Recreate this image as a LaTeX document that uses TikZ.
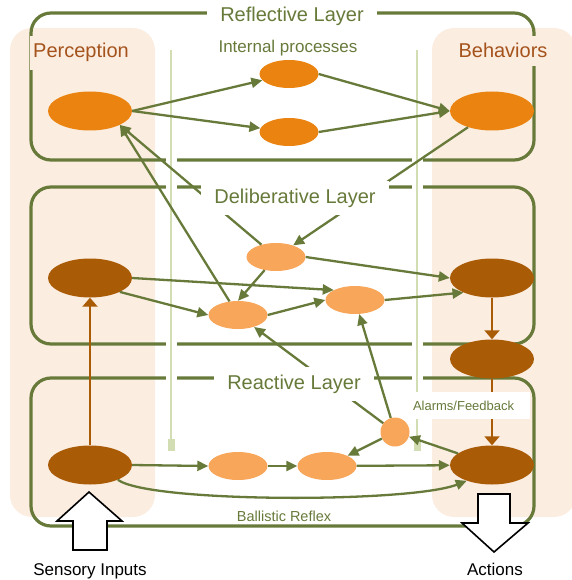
\documentclass[tikz,border=0pt]{standalone}
\usepackage{fontspec}
\setmainfont{Liberation Sans}
\usepackage{tikz}
\usetikzlibrary{arrows.meta,shapes.geometric}
\definecolor{lyrgreen}{HTML}{677A3A}
\definecolor{lyrguide}{HTML}{D3DDB4}
\definecolor{lyrpeach}{HTML}{FCEDE1}
\definecolor{lyrorange}{HTML}{EA830F}
\definecolor{lyrlight}{HTML}{F7A65A}
\definecolor{lyrbrown}{HTML}{A95B05}
\definecolor{lyrtext}{HTML}{A4531C}
\tikzset{
  layer/.style={draw=lyrgreen,line width=3.2pt,rounded corners=20pt},
  layertitle/.style={fill=white,text=lyrgreen,inner xsep=13pt,inner ysep=8pt,anchor=base,font=\fontsize{20}{24}\selectfont},
  sidelbl/.style={fill=lyrpeach,text=lyrtext,inner ysep=8pt,anchor=base,font=\fontsize{20}{24}\selectfont},
  lbl/.style={text=lyrgreen,anchor=base},
  bignode/.style={ellipse,minimum width=84pt,minimum height=39pt,inner sep=0pt},
  smallnode/.style={ellipse,minimum width=59pt,minimum height=28pt,inner sep=0pt},
  guide/.style={draw=lyrguide,line width=2.6pt,preaction={draw=white,line width=11pt}},
  ar/.style={-{Triangle[length=11pt,width=10pt]},draw=lyrgreen,line width=2.3pt},
  arb/.style={-{Triangle[length=9pt,width=15pt]},draw=lyrbrown,line width=2pt},
  bigarrow/.style={draw=black,fill=white,line width=1.6pt,line join=miter},
}
\begin{document}
\begin{tikzpicture}[x=1pt,y=-1pt]
\useasboundingbox (0,0) rectangle (571,580);
% perception / behavior columns
\fill[lyrpeach,rounded corners=22pt] (10,28) rectangle (155,517);
\fill[lyrpeach,rounded corners=22pt] (432,28) rectangle (576,517);
% the three layers
\foreach \top/\bot in {13/160,187/344,378/526}
  \draw[layer] (31,\top) rectangle (534,\bot);
\foreach \x in {171,417} {
  \draw[guide] (\x,50) -- (\x,440);
  \fill[lyrguide] (\x-3.5,439) rectangle (\x+3.5,451);
}
% reflective
\node[bignode,fill=lyrorange] (p3) at (90,111) {};
\node[smallnode,fill=lyrorange] (i1) at (289,74) {};
\node[smallnode,fill=lyrorange] (i2) at (289,132) {};
\node[bignode,fill=lyrorange] (b3) at (492,111) {};
% deliberative
\node[bignode,fill=lyrbrown] (p2) at (90,278) {};
\node[smallnode,fill=lyrlight] (d1) at (276,257) {};
\node[smallnode,fill=lyrlight] (d2) at (238,315) {};
\node[smallnode,fill=lyrlight] (d3) at (355,300) {};
\node[bignode,fill=lyrbrown] (b2) at (492,278) {};
\node[bignode,fill=lyrbrown] (bm) at (492,359) {};
% reactive
\node[bignode,fill=lyrbrown] (p1) at (90,465) {};
\node[smallnode,fill=lyrlight] (r1) at (238,466) {};
\node[smallnode,fill=lyrlight] (r2) at (327,466) {};
\node[circle,fill=lyrlight,minimum size=29pt,inner sep=0pt] (r3) at (395,432) {};
\node[bignode,fill=lyrbrown] (b1) at (492,465) {};
% connections
\draw[ar] (p3.east) -- (i1);
\draw[ar] (p3.east) -- (i2);
\draw[ar] (i1.east) -- (b3.west);
\draw[ar] (i2.east) -- (b3.west);
\draw[ar] (b3) -- (d1);
\draw[ar] (d1) -- (p3.-25);
\draw[ar] (d2) -- (p3.-25);
\draw[ar] (p2.-25) -- (d2.west);
\draw[ar] (p2.east) -- (d3.155);
\draw[ar] (d1) -- (d2.north);
\draw[ar] (d2.east) -- (d3.west);
\draw[ar] (d1.east) -- (b2.west);
\draw[ar] (d3.east) -- (b2.-153);
\draw[arb] (p1) -- (p2);
\draw[arb] (b2) -- (bm);
\draw[arb] (bm) -- (b1);
\draw[ar] (p1.east) -- (r1.west);
\draw[ar] (r1) -- (r2);
\draw[ar] (r2) -- (b1);
\draw[ar] (b1) -- (r3);
\draw[ar] (r3) -- (r2);
\draw[ar] (r3) -- (d2);
\draw[ar] (r3) -- (d3);
\draw[ar] (p1.-28) .. controls (150,503) and (410,503) .. (b1.-148);
% labels
\node[layertitle] (t3) at (292,22) {Reflective Layer};
\node[layertitle] (t2) at (295,203) {Deliberative Layer};
\node[layertitle] (t1) at (294,389) {Reactive Layer};
\node[sidelbl] (perc) at (81,58) {Perception};
\node[sidelbl] (beh) at (503,58) {Behaviors};
\node[lbl,font=\fontsize{17}{20}\selectfont] (ip) at (288,53) {Internal processes};
\node[lbl,fill=white,text width=112pt,inner xsep=5pt,inner ysep=8.5pt,align=left,font=\fontsize{13}{15}\selectfont] (al) at (469,410) {Alarms/Feedback};
\node[lbl,font=\fontsize{14.5}{17}\selectfont] (br) at (284,521) {Ballistic Reflex};
% inputs and outputs
\draw[bigarrow] (73,550) -- (73,521) -- (57,521) -- (89,492) -- (122,521) -- (107,521) -- (107,550) -- cycle;
\draw[bigarrow] (478,494) -- (478,523) -- (462,523) -- (494,552) -- (528,523) -- (510,523) -- (510,494) -- cycle;
\node[anchor=base,font=\fontsize{17}{20}\selectfont] (sin) at (90,575) {Sensory Inputs};
\node[anchor=base,font=\fontsize{17}{20}\selectfont] (act) at (495,575) {Actions};
\end{tikzpicture}
\end{document}
